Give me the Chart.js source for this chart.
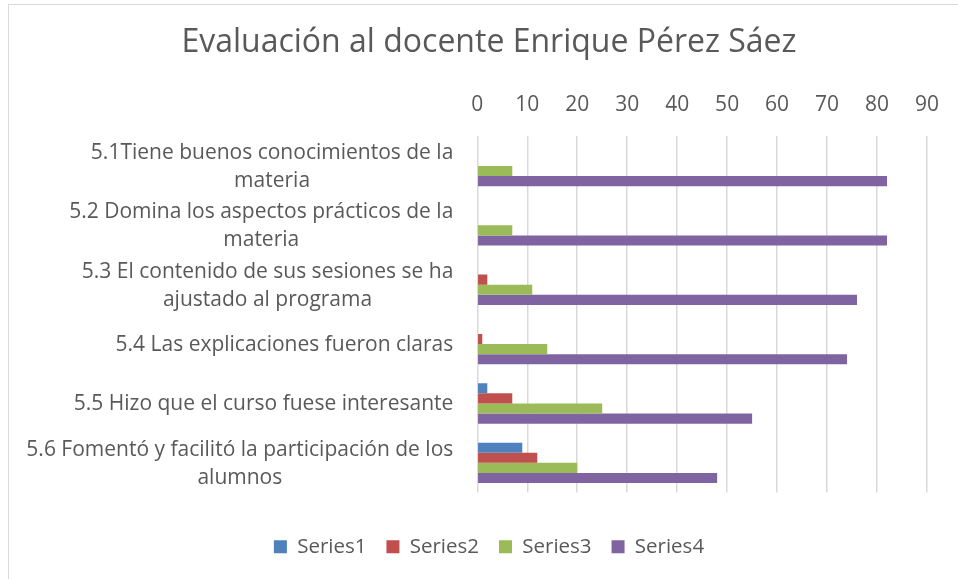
<!DOCTYPE html>
<html>
<head>
<meta charset="utf-8">
<script src="https://cdn.jsdelivr.net/npm/chart.js@4/dist/chart.umd.min.js"></script>
<style>
  html, body { margin: 0; padding: 0; background: #ffffff; overflow: hidden; }
  #frame { position: absolute; left: 8px; top: 4px; width: 2000px; height: 2000px; border: 1px solid #d9d9d9; }
  #wrap { position: absolute; left: 0; top: 0; width: 958px; height: 579px; }
</style>
</head>
<body>
<div id="frame"></div>
<div id="wrap"><canvas id="c" width="958" height="579"></canvas></div>
<script>
const titleText = "Evaluación al docente Enrique Pérez Sáez";
const categories = [
  ["5.1Tiene buenos conocimientos de la", "materia"],
  ["5.2 Domina los aspectos prácticos de la", "materia"],
  ["5.3 El contenido de sus sesiones se ha", "ajustado al programa"],
  ["5.4 Las explicaciones fueron claras"],
  ["5.5 Hizo que el curso fuese interesante"],
  ["5.6 Fomentó y facilitó la participación de los", "alumnos"]
];
const seriesNames = ["Series1", "Series2", "Series3", "Series4"];
const series1 = [0, 0, 0, 0, 2, 9];
const series2 = [0, 0, 2, 1, 7, 12];
const series3 = [7, 7, 11, 14, 25, 20];
const series4 = [82, 82, 76, 74, 55, 48];
const xTicks = [0, 10, 20, 30, 40, 50, 60, 70, 80, 90];

const colors = ["#4F81BD", "#C0504D", "#9BBB59", "#8064A2"];
const textColor = "#595959";
const FONT = "'Open Sans', sans-serif";

const catLabelPlugin = {
  id: 'catLabels',
  afterDraw(chart) {
    const ctx = chart.ctx;
    const yScale = chart.scales.y;
    const rightEdge = chart.chartArea.left - 24;
    const lh = 28;
    ctx.save();
    ctx.font = "21px " + FONT;
    ctx.fillStyle = textColor;
    ctx.textAlign = 'center';
    ctx.textBaseline = 'middle';
    categories.forEach((lines, i) => {
      const yc = yScale.getPixelForValue(i) + 1;
      const maxW = Math.max(...lines.map(l => ctx.measureText(l).width));
      const cx = rightEdge - maxW / 2;
      const y0 = yc - (lines.length - 1) * lh / 2;
      lines.forEach((l, k) => ctx.fillText(l, cx, y0 + k * lh));
    });
    ctx.restore();
  }
};

const allSeries = [series1, series2, series3, series4];
new Chart(document.getElementById('c'), {
  type: 'bar',
  data: {
    labels: categories.map(c => c.join(' ')),
    datasets: allSeries.map((d, i) => ({
      label: seriesNames[i],
      data: d,
      backgroundColor: colors[i],
      borderWidth: 0,
      categoryPercentage: 0.68,
      barPercentage: 1.0
    }))
  },
  options: {
    indexAxis: 'y',
    responsive: false,
    animation: false,
    layout: { padding: { left: 20, right: 0, top: 0, bottom: 12 } },
    plugins: {
      title: {
        display: true,
        text: titleText,
        color: textColor,
        font: { family: FONT, size: 32, weight: 'normal', lineHeight: 1.2 },
        padding: { top: 24, bottom: 0 }
      },
      legend: {
        display: true,
        position: 'bottom',
        title: { display: true, text: '', font: { size: 1, lineHeight: 1 }, padding: { top: 23, bottom: 0 } },
        labels: {
          color: textColor,
          font: { family: FONT, size: 20.5 },
          boxWidth: 13,
          boxHeight: 13,
          padding: 20
        }
      },
      tooltip: { enabled: false }
    },
    scales: {
      x: {
        position: 'top',
        min: 0,
        max: 90,
        afterFit(s) { s.height = 73.9; },
        afterBuildTicks(s) { s.ticks = xTicks.map(v => ({ value: v })); },
        ticks: { color: textColor, font: { family: FONT, size: 21 }, padding: 19 },
        grid: { color: '#d9d9d9', lineWidth: 1.5, drawTicks: false },
        border: { display: false }
      },
      y: {
        position: 'left',
        afterFit(s) { s.width = 457.3; },
        ticks: { display: false },
        grid: { display: false },
        border: { display: false }
      },
      yr: {
        axis: 'y',
        type: 'category',
        position: 'right',
        afterFit(s) { s.width = 28; },
        ticks: { display: false },
        grid: { display: false },
        border: { display: false }
      }
    }
  },
  plugins: [catLabelPlugin]
});
</script>
</body>
</html>
